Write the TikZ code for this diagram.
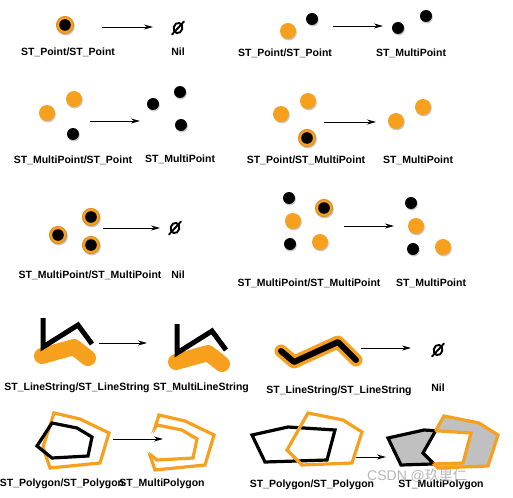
\documentclass[tikz,border=0pt]{standalone}
\usepackage{fontspec}
\setmainfont{Liberation Sans}
\newfontfamily\cjkfont{Noto Sans CJK SC}
\usetikzlibrary{arrows.meta}
\definecolor{orgc}{RGB}{246,160,30}
\definecolor{ringc}{RGB}{214,140,30}
\definecolor{shc}{RGB}{200,200,200}
\definecolor{grayc}{RGB}{192,192,192}
\tikzset{
  lbl/.style={font=\bfseries\fontsize{10.5}{12}\selectfont, inner sep=0pt, anchor=base},
  arr/.style={-{Stealth[length=9pt,width=5pt]}, line width=0.9pt},
  orgpt/.pic={\fill[shc] (0.8pt,-1.4pt) circle[radius=8pt]; \fill[orgc] (0,0) circle[radius=8pt];},
  blkpt/.pic={\fill[shc] (0.8pt,-1.4pt) circle[radius=6pt]; \fill[black] (0,0) circle[radius=6pt];},
  ringpt/.pic={\fill[shc] (0.8pt,-1.4pt) circle[radius=9pt]; \fill[orgc, draw=ringc, line width=0.8pt] (0,0) circle[radius=8.6pt]; \fill[black] (0,0) circle[radius=5.8pt];},
  nilsym/.pic={\draw[line width=1.9pt, rotate=-15] (0,0) ellipse[x radius=4.3pt, y radius=5.2pt]; \draw[line width=1.9pt, line cap=round] (-6pt,-6.5pt) -- (6pt,6.5pt);},
  blkline/.style={line width=5pt, line join=miter},
  orgband/.style={line width=16pt, orgc, line join=round, line cap=round},
  polyline/.style={line width=3.2pt, line join=miter},
}
\begin{document}
\begin{tikzpicture}[x=1pt,y=-1pt]
\useasboundingbox (0,0) rectangle (513,497);
\fill[white] (0,0) rectangle (513,497);

% ---------- Panel 1
\pic at (65,25) {ringpt};
\coordinate (a1s) at (102,27); \coordinate (a1e) at (153,27);
\draw[arr] (a1s) -- (a1e);
\pic at (178,28) {nilsym};
\node[lbl] (l1a) at (68,56) {ST\_Point/ST\_Point};
\node[lbl] (l1b) at (178,56) {Nil};

% ---------- Panel 2
\pic at (288,31) {orgpt};
\pic at (312,19) {blkpt};
\coordinate (a2s) at (333,26); \coordinate (a2e) at (383,26);
\draw[arr] (a2s) -- (a2e);
\pic at (398,28) {blkpt};
\pic at (426,16) {blkpt};
\node[lbl] (l2a) at (285,57) {ST\_Point/ST\_Point};
\node[lbl] (l2b) at (411,57) {ST\_MultiPoint};

% ---------- Panel 3
\pic at (47,113) {orgpt};
\pic at (74,99) {orgpt};
\pic at (73,134) {blkpt};
\coordinate (a3s) at (90,121); \coordinate (a3e) at (140,121);
\draw[arr] (a3s) -- (a3e);
\pic at (153,104) {blkpt};
\pic at (180,92) {blkpt};
\pic at (181,125) {blkpt};
\node[lbl] (l3a) at (73,163) {ST\_MultiPoint/ST\_Point};
\node[lbl] (l3b) at (180,162) {ST\_MultiPoint};

% ---------- Panel 4
\pic at (281,114) {orgpt};
\pic at (308,101) {orgpt};
\pic at (307,138) {ringpt};
\coordinate (a4s) at (324,122); \coordinate (a4e) at (376,122);
\draw[arr] (a4s) -- (a4e);
\pic at (396,121) {orgpt};
\pic at (423,107) {orgpt};
\node[lbl] (l4a) at (306,164) {ST\_Point/ST\_MultiPoint};
\node[lbl] (l4b) at (418,163) {ST\_MultiPoint};

% ---------- Panel 5
\pic at (58,235) {ringpt};
\pic at (91,217) {ringpt};
\pic at (91,245) {ringpt};
\coordinate (a5s) at (103,228); \coordinate (a5e) at (160,228);
\draw[arr] (a5s) -- (a5e);
\pic at (175,228) {nilsym};
\node[lbl] (l5a) at (90,278) {ST\_MultiPoint/ST\_MultiPoint};
\node[lbl] (l5b) at (178,278) {Nil};

% ---------- Panel 6
\pic at (289,198) {blkpt};
\pic at (324,208) {ringpt};
\pic at (293,221) {orgpt};
\pic at (290,244) {blkpt};
\pic at (320,242) {orgpt};
\coordinate (a6s) at (344,226); \coordinate (a6e) at (394,226);
\draw[arr] (a6s) -- (a6e);
\pic at (411,203) {blkpt};
\pic at (416,226) {orgpt};
\pic at (413,249) {blkpt};
\pic at (443,247) {orgpt};
\node[lbl] (l6a) at (309,286) {ST\_MultiPoint/ST\_MultiPoint};
\node[lbl] (l6b) at (431,286) {ST\_MultiPoint};

% ---------- Panel 7
\draw[orgband] (42,356) -- (74,347) -- (88,358);
\draw[blkline] (43,318) -- (43,347) -- (78,325) -- (92,344);
\begin{scope}[shift={(134,6)}]
\draw[orgband] (42,356) -- (74,347) -- (88,358);
\draw[blkline] (43,318) -- (43,347) -- (78,325) -- (92,344);
\end{scope}
\coordinate (a7s) at (99,343); \coordinate (a7e) at (147,343);
\draw[arr] (a7s) -- (a7e);
\node[lbl] (l7a) at (77,390) {ST\_LineString/ST\_LineString};
\node[lbl] (l7b) at (201,390) {ST\_MultiLineString};

% ---------- Panel 8
\draw[line width=13pt, orgc, line join=round, line cap=round] (281,351) -- (294,362) -- (338,342) -- (356,360);
\draw[line width=6pt, line join=round, line cap=round] (281,351) -- (294,362) -- (338,342) -- (356,360);
\coordinate (a8s) at (361,348); \coordinate (a8e) at (411,348);
\draw[arr] (a8s) -- (a8e);
\pic at (438,350) {nilsym};
\node[lbl] (l8a) at (339,393) {ST\_LineString/ST\_LineString};
\node[lbl] (l8b) at (438,391) {Nil};

% ---------- Panel 9
\def\polyOa{(54,413) -- (80,419) -- (109,433) -- (100,463) -- (50,468) -- (43,447) -- cycle}
\def\polyBa{(52,423) -- (77,428) -- (92,437) -- (88,456) -- (52,458) -- (37,446) -- cycle}
\draw[polyline, orgc] \polyOa;
\draw[polyline, black] \polyBa;
\coordinate (a9s) at (113,439); \coordinate (a9e) at (163,439);
\draw[arr] (a9s) -- (a9e);
\begin{scope}[shift={(105,2)}]
  \begin{scope}[even odd rule]
    \clip (-200,-200) rectangle (800,800) \polyBa;
    \draw[polyline, orgc] \polyOa;
  \end{scope}
  \begin{scope}
    \clip \polyOa;
    \draw[polyline, orgc] \polyBa;
  \end{scope}
\end{scope}
\node[lbl] (l9a) at (62,486) {ST\_Polygon/ST\_Polygon};
\node[lbl] (l9b) at (162,486) {ST\_MultiPolygon};

% ---------- Panel 10
\def\polyBb{(252,435) -- (288,427) -- (335,430) -- (327,460) -- (265,462) -- cycle}
\def\polyOb{(308,413) -- (343,420) -- (362,432) -- (352,463) -- (302,465) -- (287,450) -- cycle}
\draw[polyline, black] \polyBb;
\draw[polyline, orgc] \polyOb;
\coordinate (a10s) at (356,457); \coordinate (a10e) at (386,457);
\draw[arr] (a10s) -- (a10e);
\begin{scope}[shift={(136,3)}]
  \fill[grayc, even odd rule] \polyBb \polyOb;
  \begin{scope}[even odd rule]
    \clip (-200,-200) rectangle (800,800) \polyOb;
    \draw[polyline, black] \polyBb;
  \end{scope}
  \begin{scope}
    \clip \polyBb;
    \draw[polyline, black] \polyOb;
  \end{scope}
  \begin{scope}[even odd rule]
    \clip (-200,-200) rectangle (800,800) \polyBb;
    \draw[polyline, orgc] \polyOb;
  \end{scope}
  \begin{scope}
    \clip \polyOb;
    \draw[polyline, orgc] \polyBb;
  \end{scope}
\end{scope}
\node[lbl] (l10a) at (312,487) {ST\_Polygon/ST\_Polygon};
\node[lbl] (l10b) at (441,487) {ST\_MultiPolygon};

% watermark
\node[inner sep=0pt, anchor=base west, text=black!35, opacity=0.8, font=\fontsize{14}{16}\selectfont] (wm) at (367,480) {CSDN @{\cjkfont 玖里仁}};
\end{tikzpicture}
\end{document}
